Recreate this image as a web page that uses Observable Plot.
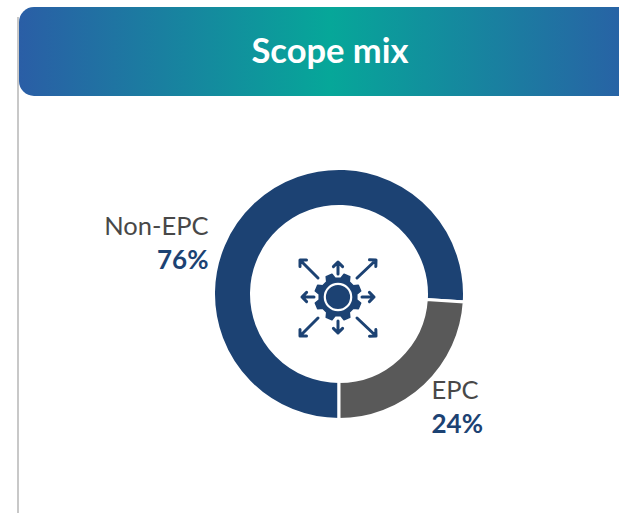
<!DOCTYPE html>
<html>
<head>
<meta charset="utf-8">
<script src="https://cdn.jsdelivr.net/npm/d3@7"></script>
<script src="https://cdn.jsdelivr.net/npm/@observablehq/plot@0.6"></script>
<style>
html,body{margin:0;padding:0;background:#fff;overflow:hidden;width:619px;height:513px;font-family:Lato,"Open Sans",sans-serif}
#rule{position:absolute;left:17px;top:17px;width:2px;height:496px;background:#c8c8c8}
#head{position:absolute;left:19px;top:7px;width:622px;height:89px;border-radius:15px;
background:linear-gradient(90deg,#2a5ea6 0%,#06a799 50%,#2a5ea6 100%);
color:#fff;font-weight:700;font-size:34.5px;line-height:86px;text-align:center}
#chart{position:absolute;left:0;top:96px}
</style>
</head>
<body>
<div id="rule"></div>
<div id="head">Scope mix</div>
<div id="chart"></div>
<script>
const categories = ["Non-EPC", "EPC"];
const shares = [76, 24];
const colors = ["#1c4273", "#595959"];
const shareLabels = ["76%", "24%"];

const rows = categories.map((name, i) => ({name, share: shares[i], color: colors[i], pct: shareLabels[i]}));
const W = 619, H = 417, CX = 339, CY = 198, R = 125.5, r = 87.5;

function donut(index, {x, y}) {
  const cx = x(0), cy = y(0);
  const g = d3.create("svg:g").attr("transform", `translate(${cx},${cy})`);
  const pie = d3.pie().value(d => d.share).sort(null).startAngle(Math.PI).endAngle(3 * Math.PI);
  const arc = d3.arc().innerRadius(r).outerRadius(R);
  g.selectAll("path").data(pie(rows)).join("path")
    .attr("d", arc).attr("fill", d => d.data.color)
    .attr("stroke", "#fff").attr("stroke-width", 3);
  return g.node();
}

function icon(index, {x, y}) {
  const g = d3.create("svg:g").attr("transform", `translate(${x(-1)},${y(3)})`);
  const c = colors[0];
  const line = d3.path();
  const arrow = (x1, y1, x2, y2) => {
    const a = Math.atan2(y2 - y1, x2 - x1), h = 6.5;
    line.moveTo(x1, y1); line.lineTo(x2, y2);
    line.moveTo(x2 - h * Math.cos(a - Math.PI / 4), y2 - h * Math.sin(a - Math.PI / 4));
    line.lineTo(x2, y2);
    line.lineTo(x2 - h * Math.cos(a + Math.PI / 4), y2 - h * Math.sin(a + Math.PI / 4));
  };
  arrow(-20, -19, -38, -37); arrow(19, -19, 38, -37);
  arrow(-20, 21, -38, 39); arrow(19, 21, 38, 39);
  arrow(0, -23, 0, -35); arrow(0, 24, 0, 36);
  arrow(-24, 0, -36, 0); arrow(24, 0, 36, 0);
  g.append("path").attr("d", line.toString()).attr("fill", "none").attr("stroke", c)
    .attr("stroke-width", 3).attr("stroke-linecap", "round").attr("stroke-linejoin", "round");
  const teeth = 8, pts = [];
  for (let i = 0; i < teeth; i++) {
    const a = (i / teeth) * 2 * Math.PI + Math.PI / 8, s = Math.PI / teeth;
    [[-0.62, 19], [-0.34, 23.5], [0.34, 23.5], [0.62, 19]].forEach(([k, rad]) => {
      pts.push([rad * Math.cos(a + k * s), rad * Math.sin(a + k * s)]);
    });
  }
  g.append("path").attr("d", d3.line().curve(d3.curveLinearClosed)(pts)).attr("fill", c)
    .attr("stroke", c).attr("stroke-width", 1.5).attr("stroke-linejoin", "round");
  g.append("circle").attr("r", 13.2).attr("fill", c).attr("stroke", "#fff").attr("stroke-width", 2.2);
  return g.node();
}

const nameX = d => d.name === "EPC" ? 92 : -131;

const plot = Plot.plot({
  width: W, height: H, margin: 0,
  x: {domain: [-CX, W - CX], axis: null},
  y: {domain: [H - CY, -CY], axis: null},
  style: {background: "transparent", fontFamily: "Lato, 'Open Sans', sans-serif"},
  marks: [
    donut,
    icon,
    Plot.text(rows.filter(d => d.name === "EPC"), {x: nameX, y: () => 96, text: "name", textAnchor: "start", fontSize: 25.5, fill: "#484848", fontWeight: 400}),
    Plot.text(rows.filter(d => d.name === "EPC"), {x: nameX, y: () => 130, text: "pct", textAnchor: "start", fontSize: 26, fontWeight: 700, fill: colors[0]}),
    Plot.text(rows.filter(d => d.name !== "EPC"), {x: nameX, y: () => -68, text: "name", textAnchor: "end", fontSize: 25.5, fill: "#484848", fontWeight: 400}),
    Plot.text(rows.filter(d => d.name !== "EPC"), {x: nameX, y: () => -34, text: "pct", textAnchor: "end", fontSize: 26, fontWeight: 700, fill: colors[0]})
  ]
});
document.getElementById("chart").appendChild(plot);
</script>
</body>
</html>
